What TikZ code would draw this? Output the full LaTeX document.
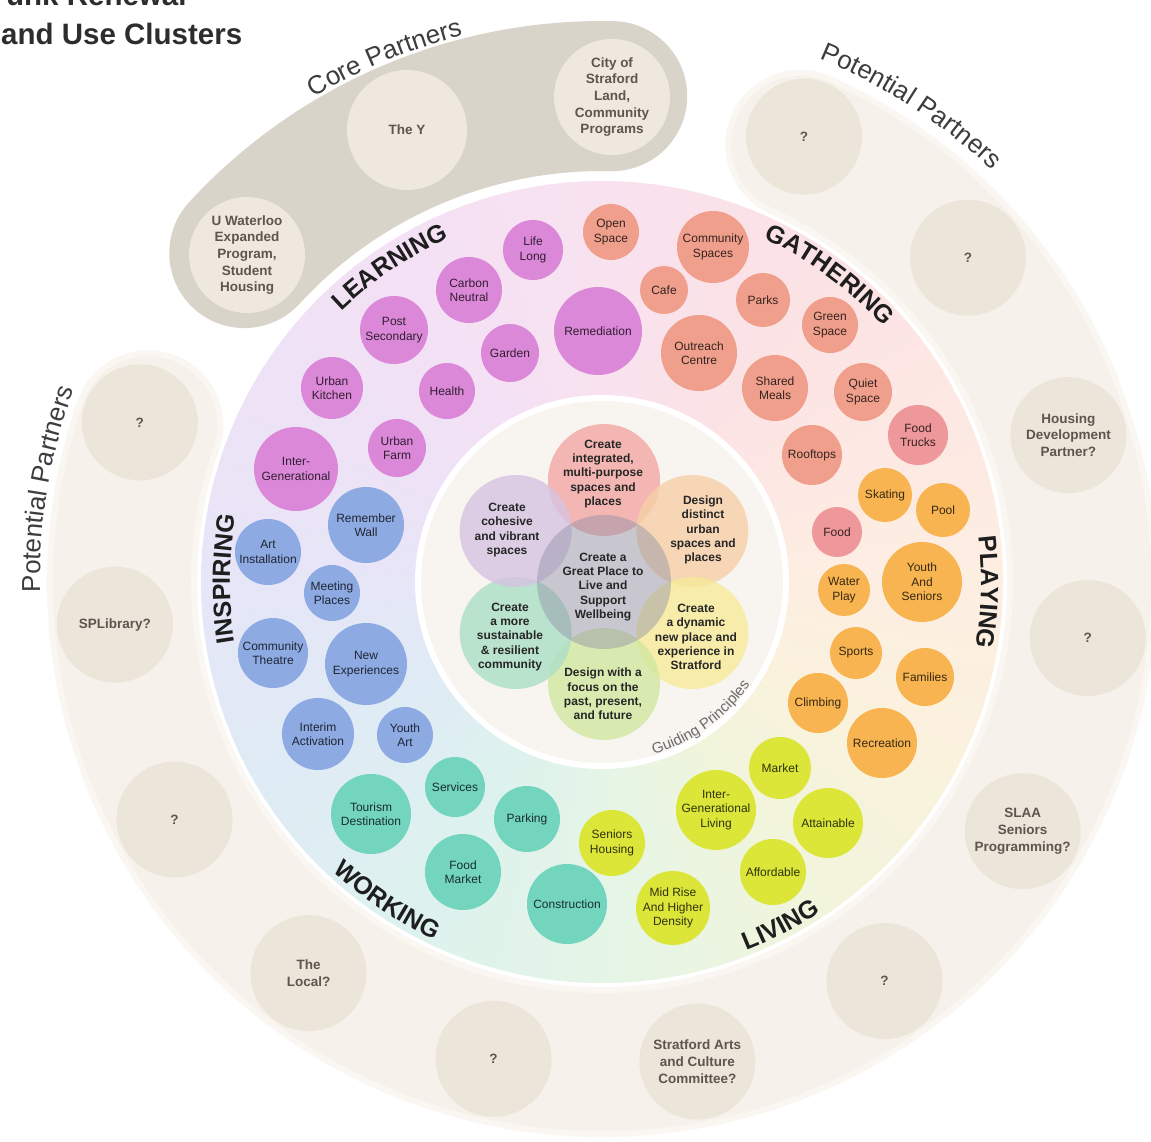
\documentclass[tikz,border=0pt]{standalone}
\usepackage{fontspec}
\setmainfont{Liberation Sans}
\setsansfont{Liberation Sans}
\usetikzlibrary{decorations.text}

% colour wheel of the cluster band, every 30 degrees
\definecolor{band0}{HTML}{FDEEE2}
\definecolor{band1}{HTML}{FDE7E3}
\definecolor{band2}{HTML}{FBE2E6}
\definecolor{band3}{HTML}{F8E2F0}
\definecolor{band4}{HTML}{F4E1F5}
\definecolor{band5}{HTML}{EEE2F6}
\definecolor{band6}{HTML}{E5E6F7}
\definecolor{band7}{HTML}{DFEBF5}
\definecolor{band8}{HTML}{DDF2EE}
\definecolor{band9}{HTML}{E5F5E6}
\definecolor{band10}{HTML}{F0F5DC}
\definecolor{band11}{HTML}{FAF2DD}

% cluster bubbles
\definecolor{lrn}{HTML}{DC88D9}
\definecolor{gth}{HTML}{EF9F8B}
\definecolor{gthpink}{HTML}{EF989B}
\definecolor{ply}{HTML}{F8B450}
\definecolor{liv}{HTML}{DCE639}
\definecolor{wrk}{HTML}{73D5BE}
\definecolor{ins}{HTML}{8EAAE3}

% guiding principles
\definecolor{innerfill}{HTML}{F8F5F0}
\definecolor{petalA}{HTML}{F2A7A3}
\definecolor{petalB}{HTML}{F6CFA6}
\definecolor{petalC}{HTML}{F7EA98}
\definecolor{petalD}{HTML}{D2E8A0}
\definecolor{petalE}{HTML}{ABDFC6}
\definecolor{petalF}{HTML}{D6C3E2}
\definecolor{petalcore}{HTML}{8E90A8}
\definecolor{petalink}{HTML}{262626}

% partner rings
\definecolor{ringsoft}{HTML}{FAF7F3}
\definecolor{ringfill}{HTML}{F6F1EA}
\definecolor{coreband}{HTML}{D9D4CA}
\definecolor{corecircle}{HTML}{EEE8DE}
\definecolor{partnerfill}{HTML}{ECE5DA}
\definecolor{partnerink}{HTML}{5C564D}

\definecolor{labelink}{HTML}{1E1E1E}
\definecolor{ringink}{HTML}{3D3D3D}
\definecolor{guideink}{HTML}{6A6A6A}
\definecolor{titleink}{HTML}{2D2D2D}

\newcommand\clusterfont{\bfseries\fontsize{25}{25}\selectfont\color{labelink}}
\newcommand\ringfont{\fontsize{26}{26}\selectfont\color{ringink}}
\newcommand\guidefont{\fontsize{15}{15}\selectfont\color{guideink}}

\begin{document}
\begin{tikzpicture}[x=1pt,y=1pt,
  bub/.style={circle, inner sep=0pt, align=center, font=\fontsize{12}{14.5}\selectfont},
  lrnb/.style={bub, fill=lrn, text=lrn!22!black},
  gthb/.style={bub, fill=gth, text=gth!22!black},
  gthp/.style={bub, fill=gthpink, text=gthpink!22!black},
  plyb/.style={bub, fill=ply, text=ply!22!black},
  livb/.style={bub, fill=liv, text=liv!22!black},
  wrkb/.style={bub, fill=wrk, text=wrk!22!black},
  insb/.style={bub, fill=ins, text=ins!22!black},
  partner/.style={circle, inner sep=0pt, minimum size=116pt, fill=partnerfill, align=center,
    text=partnerink, font=\bfseries\fontsize{13.5}{16.6}\selectfont},
  corepartner/.style={partner, fill=corecircle},
  petal/.style={circle, inner sep=0pt, minimum size=112pt, fill opacity=0.8},
  petaltext/.style={align=center, inner sep=0pt, text=petalink, font=\bfseries\fontsize{12}{14.3}\selectfont},
  curved/.style={decorate, decoration={text along path, text align=center, text={#1}}}
]
\useasboundingbox (0,0) rectangle (1151,-1142);
\clip (0,0) rectangle (1151,-1142);
\fill[white] (0,0) rectangle (1151,-1142);
\coordinate (C) at (602,-582);

% ---------- partner rings ----------
\draw[line width=150pt, line cap=round, draw=ringsoft] (C) ++(65.6:480) arc[start angle=65.6, end angle=-199.06, radius=480pt];
\draw[line width=138pt, line cap=round, draw=ringfill] (C) ++(65.6:480) arc[start angle=65.6, end angle=-199.06, radius=480pt];
\draw[line width=150pt, line cap=round, draw=coreband] (C) ++(137.4:486) arc[start angle=137.4, end angle=88.8, radius=486pt];

% ---------- cluster band: colour wheel made of thin wedges ----------
\begin{scope}[shift={(602,-582)}]
\foreach \i in {0,...,11}{
  \pgfmathtruncatemacro\k{mod(\i+1,12)}
  \foreach \j in {0,...,11}{
    \pgfmathtruncatemacro\p{100-round(100*\j/12)}
    \pgfmathsetmacro\a{30*\i+2.5*\j}
    \pgfmathsetmacro\b{\a+2.9}
    \fill[fill={band\i!\p!band\k}] (\a:186) -- (\a:401) arc[start angle=\a, end angle=\b, radius=401pt]
      -- (\b:186) arc[start angle=\b, end angle=\a, radius=186pt] -- cycle;
  }
}
\end{scope}

% ---------- guiding principles ----------
\node[circle, inner sep=0pt, minimum size=368pt, fill=innerfill, draw=white, line width=6pt] (inner) at (602,-582) {};
\begin{scope}[shift={(604,-582)}]
  \node[petal, fill=petalA] (pA) at (90:102) {};
  \node[petal, fill=petalB] (pB) at (30:102) {};
  \node[petal, fill=petalC] (pC) at (-30:102) {};
  \node[petal, fill=petalD] (pD) at (-90:102) {};
  \node[petal, fill=petalE] (pE) at (-150:102) {};
  \node[petal, fill=petalF] (pF) at (150:102) {};
  \node[circle, inner sep=0pt, minimum size=134pt, fill=petalcore, fill opacity=0.45] (pcore) at (0,0) {};
\end{scope}
\node[petaltext] (tA) at (603,-474) {Create\\integrated,\\multi-purpose\\spaces and\\places};
\node[petaltext] (tB) at (703,-530) {Design\\distinct\\urban\\spaces and\\places};
\node[petaltext] (tC) at (696,-637) {Create\\a dynamic\\new place and\\experience in\\Stratford};
\node[petaltext] (tD) at (603,-694) {Design with a\\focus on the\\past, present,\\and future};
\node[petaltext] (tE) at (510,-637) {Create\\a more\\sustainable\\\& resilient\\community};
\node[petaltext] (tF) at (507,-530) {Create\\cohesive\\and vibrant\\spaces};
\node[petaltext] (tcore) at (603,-587) {Create a\\Great Place to\\Live and\\Support\\Wellbeing};
\path[curved={|\guidefont|Guiding Principles}] (C) ++(-92:180) arc[start angle=-92, end angle=-16, radius=180pt];

% ---------- learning ----------
\node[lrnb, minimum size=60pt] (lifelong) at (533,-250) {Life\\Long};
\node[lrnb, minimum size=66pt] (carbon) at (469,-290) {Carbon\\Neutral};
\node[lrnb, minimum size=68pt] (postsec) at (394,-330) {Post\\Secondary};
\node[lrnb, minimum size=58pt] (garden) at (510,-353) {Garden};
\node[lrnb, minimum size=88pt] (remed) at (598,-331) {Remediation};
\node[lrnb, minimum size=62pt] (ukitchen) at (332,-388) {Urban\\Kitchen};
\node[lrnb, minimum size=56pt] (health) at (447,-391) {Health};
\node[lrnb, minimum size=58pt] (ufarm) at (397,-448) {Urban\\Farm};
\node[lrnb, minimum size=84pt] (intergen) at (296,-469) {Inter-\\Generational};

% ---------- gathering ----------
\node[gthb, minimum size=56pt] (openspace) at (611,-232) {Open\\Space};
\node[gthb, minimum size=72pt] (commspaces) at (713,-247) {Community\\Spaces};
\node[gthb, minimum size=48pt] (cafe) at (664,-290) {Cafe};
\node[gthb, minimum size=54pt] (parks) at (763,-300) {Parks};
\node[gthb, minimum size=56pt] (greenspace) at (830,-325) {Green\\Space};
\node[gthb, minimum size=76pt] (outreach) at (699,-353) {Outreach\\Centre};
\node[gthb, minimum size=66pt] (shared) at (775,-388) {Shared\\Meals};
\node[gthb, minimum size=58pt] (quiet) at (863,-392) {Quiet\\Space};
\node[gthp, minimum size=60pt] (foodtrucks) at (918,-435) {Food\\Trucks};
\node[gthb, minimum size=60pt] (rooftops) at (812,-455) {Rooftops};
\node[gthp, minimum size=50pt] (food) at (837,-532) {Food};

% ---------- playing ----------
\node[plyb, minimum size=54pt] (skating) at (885,-495) {Skating};
\node[plyb, minimum size=54pt] (pool) at (943,-510) {Pool};
\node[plyb, minimum size=80pt] (youthsen) at (922,-582) {Youth\\And\\Seniors};
\node[plyb, minimum size=52pt] (waterplay) at (844,-590) {Water\\Play};
\node[plyb, minimum size=52pt] (sports) at (856,-653) {Sports};
\node[plyb, minimum size=58pt] (families) at (925,-677) {Families};
\node[plyb, minimum size=60pt] (climbing) at (818,-703) {Climbing};
\node[plyb, minimum size=70pt] (recreation) at (882,-743) {Recreation};

% ---------- living ----------
\node[livb, minimum size=62pt] (market) at (780,-768) {Market};
\node[livb, minimum size=80pt] (genliving) at (716,-810) {Inter-\\Generational\\Living};
\node[livb, minimum size=70pt] (attainable) at (828,-823) {Attainable};
\node[livb, minimum size=66pt] (seniorsh) at (612,-843) {Seniors\\Housing};
\node[livb, minimum size=66pt] (affordable) at (773,-872) {Affordable};
\node[livb, minimum size=74pt] (midrise) at (673,-908) {Mid Rise\\And Higher\\Density};

% ---------- working ----------
\node[wrkb, minimum size=80pt] (tourism) at (371,-814) {Tourism\\Destination};
\node[wrkb, minimum size=60pt] (services) at (455,-787) {Services};
\node[wrkb, minimum size=66pt] (parking) at (527,-819) {Parking};
\node[wrkb, minimum size=76pt] (foodmarket) at (463,-872) {Food\\Market};
\node[wrkb, minimum size=80pt] (construction) at (567,-904) {Construction};

% ---------- inspiring ----------
\node[insb, minimum size=76pt] (remember) at (366,-525) {Remember\\Wall};
\node[insb, minimum size=66pt] (artinst) at (268,-552) {Art\\Installation};
\node[insb, minimum size=56pt] (meeting) at (332,-593) {Meeting\\Places};
\node[insb, minimum size=70pt] (theatre) at (273,-653) {Community\\Theatre};
\node[insb, minimum size=82pt] (newexp) at (366,-664) {New\\Experiences};
\node[insb, minimum size=72pt] (interim) at (318,-734) {Interim\\Activation};
\node[insb, minimum size=56pt] (youthart) at (405,-735) {Youth\\Art};

% ---------- cluster names along the band ----------
\path[curved={|\clusterfont|LEARNING}] (C) ++(160:376) arc[start angle=160, end angle=88, radius=376pt];
\path[curved={|\clusterfont|GATHERING}] (C) ++(90:380) arc[start angle=90, end angle=17, radius=380pt];
\path[curved={|\clusterfont|PLAYING}] (C) ++(35:379) arc[start angle=35, end angle=-38, radius=379pt];
\path[curved={|\clusterfont|INSPIRING}] (C) ++(215:372) arc[start angle=215, end angle=144, radius=372pt];
\path[curved={|\clusterfont|WORKING}] (C) ++(-160:395) arc[start angle=-160, end angle=-88, radius=395pt];
\path[curved={|\clusterfont|LIVING}] (C) ++(-98:396) arc[start angle=-98, end angle=-27, radius=396pt];

% ---------- partners ----------
\node[corepartner] (uwaterloo) at (247,-255) {U Waterloo\\Expanded\\Program,\\Student\\Housing};
\node[corepartner, minimum size=120pt] (they) at (407,-130) {The Y};
\node[corepartner] (city) at (612,-97) {City of\\Straford\\Land,\\Community\\Programs};

\begin{scope}[shift={(602,-582)}]
  \node[partner] (pp0) at (65.6:489) {?};
  \node[partner] (pp1) at (41.54:489) {?};
  \node[partner] (pp2) at (17.48:489) {Housing\\Development\\Partner?};
  \node[partner] (pp3) at (-6.58:489) {?};
  \node[partner] (pp4) at (-30.64:489) {SLAA\\Seniors\\Programming?};
  \node[partner] (pp5) at (-54.7:489) {?};
  \node[partner] (pp6) at (-78.76:489) {Stratford Arts\\and Culture\\Committee?};
  \node[partner] (pp7) at (-102.82:489) {?};
  \node[partner] (pp8) at (-126.88:489) {The\\Local?};
  \node[partner] (pp9) at (-150.94:489) {?};
  \node[partner] (pp10) at (-175:489) {SPLibrary?};
  \node[partner] (pp11) at (-199.06:489) {?};
\end{scope}

\path[curved={|\ringfont|Core Partners}] (C) ++(140:564) arc[start angle=140, end angle=85, radius=564pt];
\path[curved={|\ringfont|Potential Partners}] (C) ++(85:567) arc[start angle=85, end angle=29, radius=567pt];
\path[curved={|\ringfont|Potential Partners}] (C) ++(200:562) arc[start angle=200, end angle=141, radius=562pt];

% ---------- title ----------
\node[anchor=base west, inner sep=0pt, text=titleink, font=\bfseries\fontsize{29.5}{30}\selectfont] (title1) at (6,-6) {unk Renewal};
\node[anchor=base west, inner sep=0pt, text=titleink, font=\bfseries\fontsize{29.5}{30}\selectfont] (title2) at (1,-45) {and Use Clusters};
\end{tikzpicture}
\end{document}
